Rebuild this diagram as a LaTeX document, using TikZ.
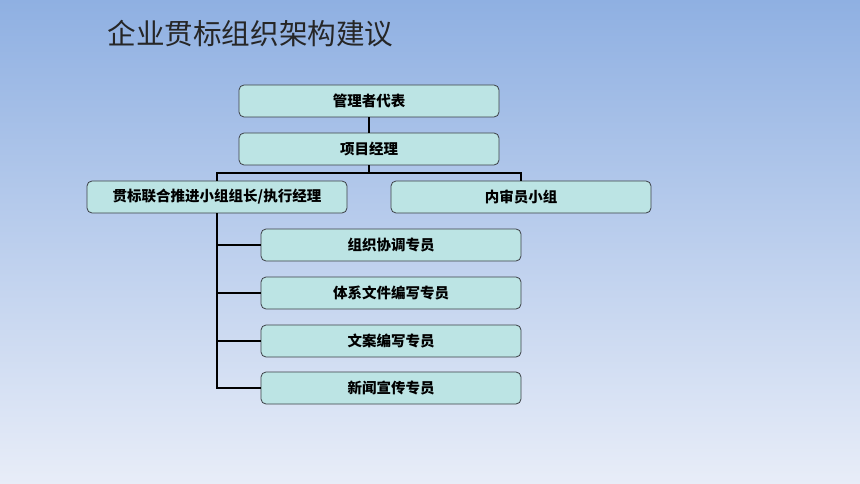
\documentclass[tikz,border=0pt]{standalone}
\usepackage{fontspec}
\newfontfamily\cjk{Noto Sans CJK SC}
\usepackage{tikz}
\usetikzlibrary{positioning}

\definecolor{bgtop}{RGB}{143,176,226}
\definecolor{bgbot}{RGB}{232,237,248}
\definecolor{boxfill}{RGB}{188,228,228}
\definecolor{boxline}{RGB}{60,64,70}

\begin{document}
\begin{tikzpicture}[x=1pt, y=-1pt,
    unit/.style={draw=boxline, fill=boxfill, rounded corners=5pt, line width=0.8pt,
        minimum width=260pt, minimum height=32pt, inner sep=0pt,
        font=\cjk\bfseries\fontsize{14.5}{17}\selectfont},
    link/.style={line width=1.7pt, black}]
\shade[top color=bgtop, bottom color=bgbot] (0,0) rectangle (860,484);
\node[anchor=west, font=\cjk\fontsize{28.6}{34}\selectfont, text=black!85] (title) at (104,34) {企业贯标组织架构建议};

\node[unit] (rep) at (369,101) {管理者代表};
\node[unit] (pm) at (369,149) {项目经理};
\node[unit] (lead) at (217,197) {贯标联合推进小组组长/执行经理};
\node[unit] (audit) at (521,197) {内审员小组};
\node[unit] (coord) at (391,245) {组织协调专员};
\node[unit] (docs) at (391,293) {体系文件编写专员};
\node[unit] (copy) at (391,341) {文案编写专员};
\node[unit] (news) at (391,388) {新闻宣传专员};

\coordinate (split) at (369,173);
\draw[link] (rep) -- (pm);
\draw[link] (pm) -- (split);
\draw[link] (lead.north) |- (split) -| (audit.north);
\foreach \n in {coord, docs, copy, news}
    \draw[link] (lead.south) |- (\n.west);
\end{tikzpicture}
\end{document}
